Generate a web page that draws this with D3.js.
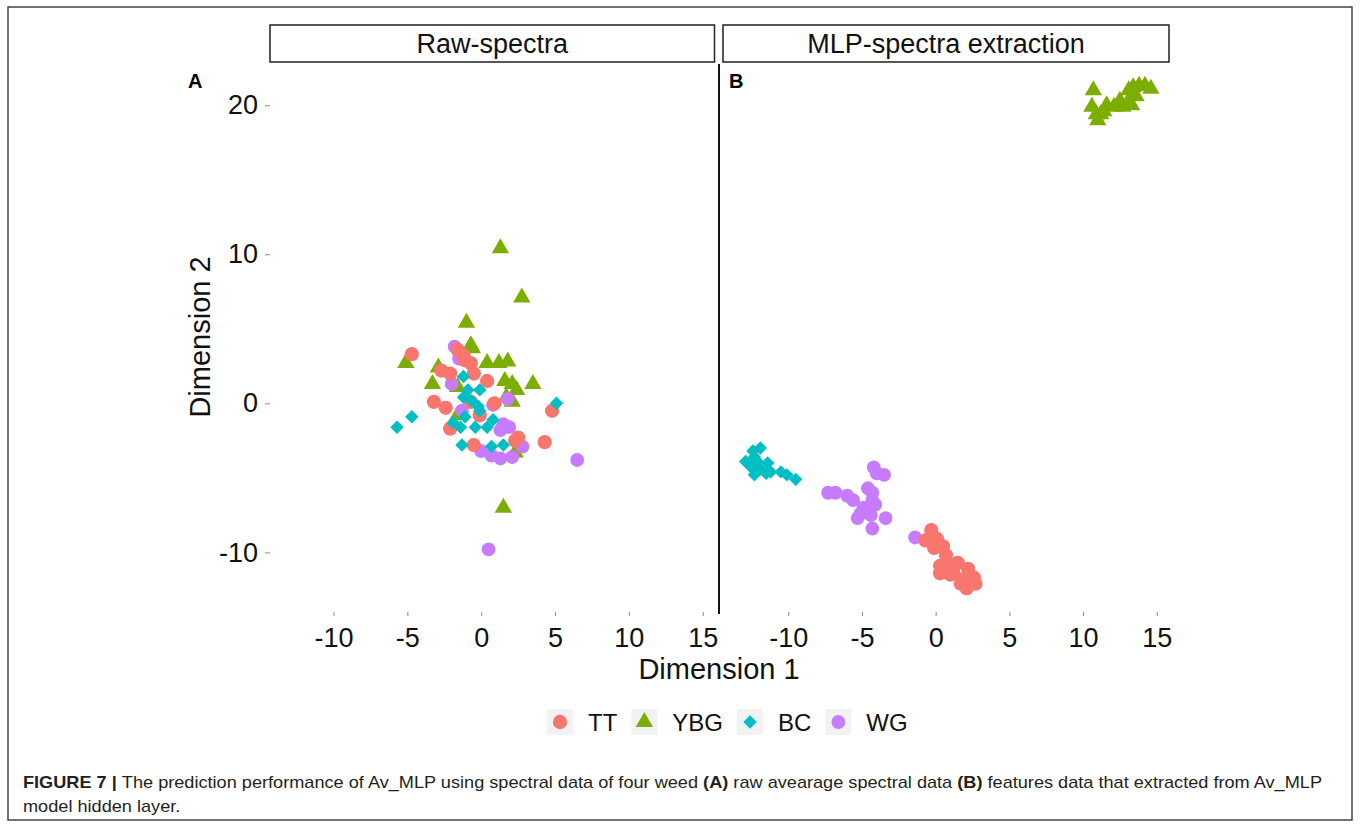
<!DOCTYPE html>
<html>
<meta charset="utf-8" />
<script src="https://d3js.org/d3.v7.min.js"></script>
<style>
  body { margin: 0; background: #fff; }
  text { font-family: "Liberation Sans", Arial, sans-serif; }
</style>
<body>
<svg id="chart" width="1360" height="827"></svg>
<script>
// weed classes and their colours / shapes
var groups = ["TT", "YBG", "BC", "WG"]
var colors = ["#F8766D", "#7CAE00", "#00BFC4", "#C77CFF"]
var panels = ["Raw-spectra", "MLP-spectra extraction"]
var xTicks = [-10, -5, 0, 5, 10, 15]
var yTicks = [-10, 0, 10, 20]

// panel A : raw spectra  [Dimension 1, Dimension 2]
var rawTT = [[-4.7,3.3],[-1.6,3.6],[-1.1,2.9],[-0.7,2.7],[-2.7,2.2],[-2.1,2.0],[-0.5,2.0],[0.4,1.5],
  [-3.2,0.1],[-2.4,-0.3],[0.9,0.0],[-0.7,0.1],[-2.1,-1.7],[-0.1,-0.8],[2.5,-2.3],[4.8,-0.5],
  [4.3,-2.6],[-0.5,-2.8],[2.3,-2.5],[-1.2,3.2]]
var rawYBG = [[-5.1,2.7],[-0.6,3.7],[-2.9,2.4],[-3.3,1.3],[-1.6,1.1],[0.4,2.7],[1.2,2.7],[1.8,2.8],
  [1.6,1.5],[2.1,1.3],[2.4,0.9],[3.5,1.3],[1.7,0.4],[2.1,0.1],[2.3,-3.3],[-1.6,-0.8],
  [1.3,10.4],[2.75,7.1],[-1.0,5.4],[-0.7,3.9],[1.5,-7.0]]
var rawBC = [[-5.7,-1.6],[-4.7,-0.9],[-1.2,1.8],[-0.9,0.9],[-0.1,0.9],[-1.2,0.4],[-0.7,0.2],[-0.2,-0.2],
  [5.1,0.0],[-1.1,-0.9],[-0.4,-1.6],[-1.4,-1.6],[0.4,-1.6],[0.8,-1.1],[-1.3,-2.8],[0.7,-2.9],
  [1.5,-2.8],[-0.1,-0.5],[-1.9,-1.3]]
var rawWG = [[-1.8,3.8],[-2.0,1.3],[1.8,0.3],[0.8,-0.1],[-1.3,-0.5],[1.5,-1.4],[1.9,-1.6],[2.8,-2.9],
  [0.0,-3.2],[0.7,-3.5],[1.3,-3.7],[2.1,-3.6],[6.5,-3.8],[1.3,-1.8],[0.5,-9.8],[-1.5,3.0]]

// panel B : MLP hidden layer features
var mlpTT = [[-0.3,-8.5],[-0.7,-9.2],[0.1,-9.1],[-0.1,-9.7],[0.5,-9.6],[0.7,-10.2],[0.3,-10.9],[1.0,-10.9],
  [1.5,-10.7],[1.2,-11.3],[0.3,-11.4],[2.2,-11.1],[2.6,-11.7],[1.9,-11.8],[1.7,-12.1],[2.1,-12.4],
  [2.7,-12.1],[1.0,-11.5]]
var mlpYBG = [[10.7,21.0],[10.6,19.9],[11.2,19.4],[11.6,20.0],[12.1,19.9],[12.5,20.3],[12.7,19.9],[13.1,21.0],
  [13.4,21.2],[13.8,21.3],[14.2,21.3],[14.6,21.1],[13.6,20.6],[13.1,20.3],[11.0,19.0],[11.4,19.6],
  [10.9,19.4],[13.3,20.0]]
var mlpBC = [[-12.4,-3.2],[-11.9,-3.0],[-12.3,-3.6],[-12.9,-3.9],[-12.1,-3.9],[-12.5,-4.3],[-11.9,-4.4],
  [-12.3,-4.8],[-11.5,-4.7],[-11.2,-4.6],[-10.5,-4.6],[-10.1,-4.8],[-9.5,-5.1],[-11.4,-4.0]]
var mlpWG = [[-4.2,-4.3],[-3.5,-4.8],[-4.0,-4.7],[-7.3,-6.0],[-6.8,-6.0],[-6.0,-6.2],[-5.6,-6.5],[-4.6,-5.7],
  [-4.3,-6.0],[-4.3,-6.5],[-4.9,-7.0],[-4.1,-6.8],[-5.1,-7.4],[-4.4,-7.5],[-3.4,-7.7],[-4.3,-8.4],
  [-5.3,-7.7],[-1.4,-9.0]]

var svg = d3.select("#chart")

// outer frame
svg.append("rect").attr("x", 8).attr("y", 7).attr("width", 1344).attr("height", 813)
  .attr("fill", "none").attr("stroke", "#444").attr("stroke-width", 1.5)

var y = d3.scaleLinear().domain([-14.0, 22.9]).range([612, 62])
var xA = d3.scaleLinear().domain([-14.3, 15.9]).range([270, 716])
var xB = d3.scaleLinear().domain([-14.5, 15.9]).range([722, 1170])

// symbol for each group
var shapes = [
  d3.symbol().type(d3.symbolCircle).size(160),
  d3.symbol().type(d3.symbolTriangle).size(130),
  d3.symbol().type(d3.symbolSquare).size(90),
  d3.symbol().type(d3.symbolCircle).size(150)
]
var rotate = [0, 0, 45, 0]

function drawPoints(x, data) {
  // drawing order as in the figure: YBG, WG, TT, BC
  [1, 3, 0, 2].forEach(function(g) {
    svg.append("g").selectAll("path")
      .data(data[g]).enter().append("path")
      .attr("d", shapes[g])
      .attr("fill", colors[g])
      .attr("transform", d => "translate(" + x(d[0]) + "," + y(d[1]) + ") rotate(" + rotate[g] + ")")
  })
}

function drawXAxis(x) {
  var ax = svg.append("g").attr("transform", "translate(0,612)")
    .call(d3.axisBottom(x).tickValues(xTicks).tickSize(4).tickPadding(12).tickFormat(d => String(d)))
  ax.select(".domain").remove()
  ax.selectAll("line").attr("stroke", "#8a8a8a")
  ax.selectAll("text").attr("font-size", 27).attr("fill", "#111")
    .style("font-family", "'Liberation Sans', Arial, sans-serif")
}

drawXAxis(xA)
drawXAxis(xB)

var ay = svg.append("g").attr("transform", "translate(270,0)")
  .call(d3.axisLeft(y).tickValues(yTicks).tickSize(5).tickPadding(7).tickFormat(d => String(d)))
ay.select(".domain").remove()
ay.selectAll("line").attr("stroke", "#8a8a8a")
ay.selectAll("text").attr("font-size", 27).attr("fill", "#111")
  .style("font-family", "'Liberation Sans', Arial, sans-serif")

drawPoints(xA, [rawTT, rawYBG, rawBC, rawWG])
drawPoints(xB, [mlpTT, mlpYBG, mlpBC, mlpWG])

// strips
;[[270, 714.5], [723, 1169]].forEach(function(r, i) {
  svg.append("rect").attr("x", r[0]).attr("y", 25).attr("width", r[1] - r[0]).attr("height", 37)
    .attr("fill", "#fff").attr("stroke", "#222").attr("stroke-width", 1.5)
  svg.append("text").attr("x", (r[0] + r[1]) / 2).attr("y", 53).attr("text-anchor", "middle")
    .attr("font-size", 27).attr("fill", "#111").text(panels[i])
})

// divider between the panels
svg.append("line").attr("x1", 719).attr("x2", 719).attr("y1", 64).attr("y2", 614)
  .attr("stroke", "#111").attr("stroke-width", 2)

// panel letters
svg.append("text").attr("x", 188).attr("y", 88).attr("font-size", 20).attr("font-weight", "bold").text("A")
svg.append("text").attr("x", 729).attr("y", 88).attr("font-size", 20).attr("font-weight", "bold").text("B")

// axis titles
svg.append("text").attr("x", 719).attr("y", 679).attr("text-anchor", "middle")
  .attr("font-size", 29).attr("fill", "#111").text("Dimension 1")
svg.append("text").attr("transform", "translate(210,337) rotate(-90)").attr("text-anchor", "middle")
  .attr("font-size", 29).attr("fill", "#111").text("Dimension 2")

// legend
var lx = 547
groups.forEach(function(g, i) {
  svg.append("rect").attr("x", lx).attr("y", 709).attr("width", 26).attr("height", 26).attr("fill", "#f2f2f2")
  svg.append("path").attr("d", shapes[i]).attr("fill", colors[i])
    .attr("transform", "translate(" + (lx + 13) + "," + 722 + ") rotate(" + rotate[i] + ")")
  var t = svg.append("text").attr("x", lx + 41).attr("y", 731).attr("font-size", 24).attr("fill", "#111").text(g)
  lx = lx + 41 + t.node().getComputedTextLength() + 14
})

// caption, squeezed to the width of the original line
var capFont = "'Liberation Sans Narrow', 'Liberation Sans', Arial, sans-serif"
var cap = svg.append("text").attr("x", 23).attr("y", 788).attr("font-size", 17).attr("fill", "#231f20")
  .style("font-family", capFont)
cap.append("tspan").attr("font-weight", "bold").text("FIGURE 7 | ")
cap.append("tspan").text("The prediction performance of Av_MLP using spectral data of four weed ")
cap.append("tspan").attr("font-weight", "bold").text("(A)")
cap.append("tspan").text(" raw avearage spectral data ")
cap.append("tspan").attr("font-weight", "bold").text("(B)")
cap.append("tspan").text(" features data that extracted from Av_MLP")
var squeeze = 1299 / cap.node().getComputedTextLength()
cap.attr("textLength", 1299).attr("lengthAdjust", "spacingAndGlyphs")
var cap2 = svg.append("text").attr("x", 23).attr("y", 812).attr("font-size", 17).attr("fill", "#231f20")
  .style("font-family", capFont)
  .text("model hidden layer.")
cap2.attr("textLength", cap2.node().getComputedTextLength() * squeeze).attr("lengthAdjust", "spacingAndGlyphs")
</script>
</body>
</html>
